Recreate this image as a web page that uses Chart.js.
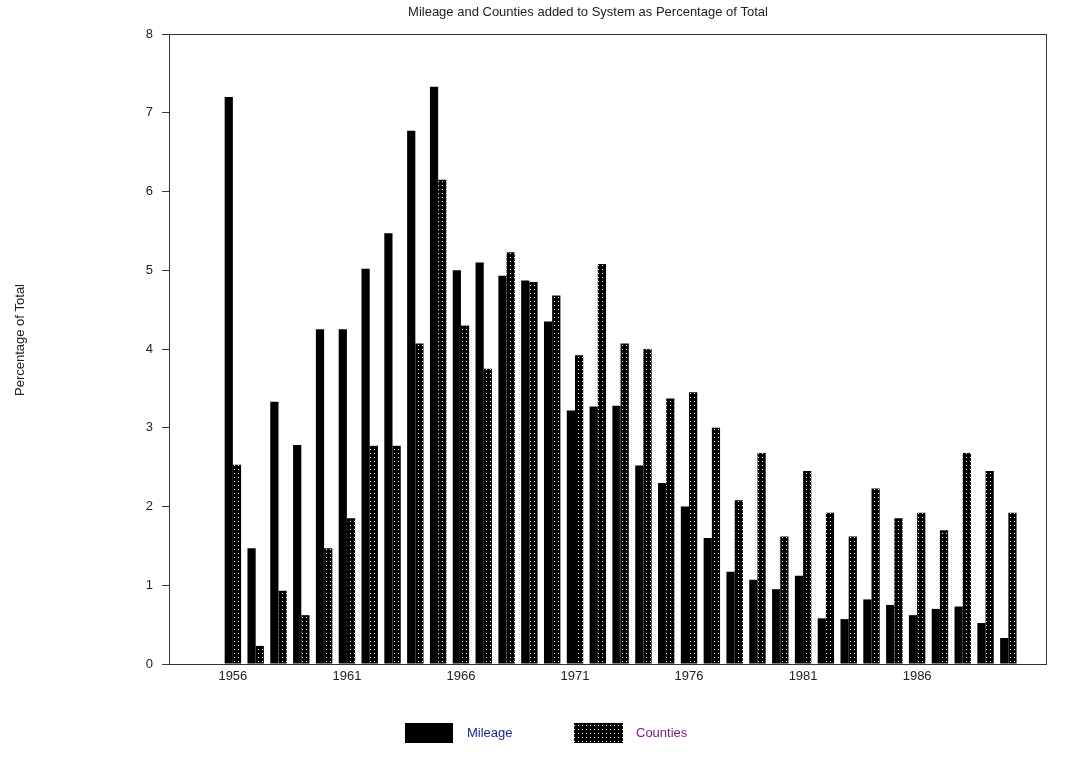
<!DOCTYPE html>
<html>
<head>
<meta charset="utf-8">
<title>Mileage and Counties added to System</title>
<script src="https://cdn.jsdelivr.net/npm/chart.js@4/dist/chart.umd.min.js"></script>
<style>
    html, body { margin: 0; padding: 0; background: #fff; }
    #chart { display: block; }
</style>
</head>
<body>
<canvas id="chart" width="1081" height="775"></canvas>
<script>
// Данные
var years = [1956, 1957, 1958, 1959, 1960, 1961, 1962, 1963, 1964, 1965,
             1966, 1967, 1968, 1969, 1970, 1971, 1972, 1973, 1974, 1975,
             1976, 1977, 1978, 1979, 1980, 1981, 1982, 1983, 1984, 1985,
             1986, 1987, 1988, 1989, 1990];

var mileage = [7.2, 1.47, 3.33, 2.78, 4.25, 4.25, 5.02, 5.47, 6.77, 7.33,
               5.0, 5.1, 4.93, 4.87, 4.35, 3.22, 3.27, 3.28, 2.52, 2.3,
               2.0, 1.6, 1.17, 1.07, 0.95, 1.12, 0.58, 0.57, 0.82, 0.75,
               0.62, 0.7, 0.73, 0.52, 0.33];

var counties = [2.53, 0.23, 0.93, 0.62, 1.47, 1.85, 2.77, 2.77, 4.07, 6.15,
                4.3, 3.75, 5.23, 4.85, 4.68, 3.92, 5.08, 4.07, 4.0, 3.37,
                3.45, 3.0, 2.08, 2.68, 1.62, 2.45, 1.92, 1.62, 2.23, 1.85,
                1.92, 1.7, 2.68, 2.45, 1.92];

var xTickYears = [1956, 1961, 1966, 1971, 1976, 1981, 1986];
var yTicks = [0, 1, 2, 3, 4, 5, 6, 7, 8];

var FONT = '"Liberation Sans", Arial, sans-serif';

// Узор для округов: черный фон с белыми точками
function makeDots() {
    var c = document.createElement('canvas');
    c.width = 4;
    c.height = 4;
    var g = c.getContext('2d');
    g.fillStyle = '#000';
    g.fillRect(0, 0, 4, 4);
    g.fillStyle = '#fff';
    g.fillRect(2, 1, 1, 1);
    return g.createPattern(c, 'repeat');
}
var dots = makeDots();

// Подписи, рамка и легенда
var extras = {
    id: 'extras',
    afterDraw: function(chart) {
        var ctx = chart.ctx;
        var a = chart.chartArea;
        ctx.save();
        ctx.strokeStyle = '#333';
        ctx.lineWidth = 1;
        ctx.strokeRect(Math.round(a.left) + 0.5, Math.round(a.top) + 0.5,
                       Math.round(a.right - a.left), Math.round(a.bottom - a.top));

        ctx.fillStyle = '#222';
        ctx.font = '13px ' + FONT;
        ctx.textAlign = 'center';
        ctx.textBaseline = 'middle';
        ctx.fillText('Mileage and Counties added to System as Percentage of Total', 588, 12);

        ctx.save();
        ctx.translate(20, 340);
        ctx.rotate(-Math.PI / 2);
        ctx.fillText('Percentage of Total', 0, 0);
        ctx.restore();

        // Легенда
        ctx.textAlign = 'left';
        ctx.fillStyle = '#000';
        ctx.fillRect(405, 723, 48, 20);
        ctx.fillStyle = '#1c1c8c';
        ctx.fillText('Mileage', 467, 733);

        ctx.fillStyle = dots;
        ctx.fillRect(574, 723, 49, 20);
        ctx.fillStyle = '#7a1a8a';
        ctx.fillText('Counties', 636, 733);
        ctx.restore();
    }
};

var ctx = document.getElementById('chart').getContext('2d');
var chart = new Chart(ctx, {
    type: 'bar',
    data: {
        labels: years,
        datasets: [{
            label: 'Mileage',
            data: mileage,
            backgroundColor: '#000',
            borderWidth: 0,
            categoryPercentage: 0.72,
            barPercentage: 1
        }, {
            label: 'Counties',
            data: counties,
            backgroundColor: dots,
            borderColor: '#000',
            borderWidth: 0,
            categoryPercentage: 0.72,
            barPercentage: 1
        }]
    },
    options: {
        responsive: false,
        animation: false,
        layout: {
            padding: { top: 34, right: 35, bottom: 0, left: 0 }
        },
        plugins: {
            legend: { display: false },
            title: { display: false },
            tooltip: { enabled: false }
        },
        scales: {
            x: {
                type: 'linear',
                min: 1953.2,
                max: 1991.65,
                offset: false,
                afterBuildTicks: function(scale) {
                    scale.ticks = xTickYears.map(function(v) { return { value: v }; });
                },
                afterFit: function(scale) {
                    scale.height = 111;
                },
                ticks: {
                    color: '#222',
                    font: { family: FONT, size: 13 },
                    padding: 5,
                    maxRotation: 0,
                    autoSkip: false,
                    callback: function(v) { return String(v); }
                },
                grid: { display: false, drawTicks: false },
                border: { display: false }
            },
            y: {
                min: 0,
                max: 8,
                afterBuildTicks: function(scale) {
                    scale.ticks = yTicks.map(function(v) { return { value: v }; });
                },
                afterFit: function(scale) {
                    scale.width = 169;
                },
                ticks: {
                    color: '#222',
                    font: { family: FONT, size: 13 },
                    padding: 9
                },
                grid: {
                    drawOnChartArea: false,
                    drawTicks: true,
                    tickLength: 7,
                    color: '#333'
                },
                border: { display: false }
            }
        }
    },
    plugins: [extras]
});
</script>
</body>
</html>
